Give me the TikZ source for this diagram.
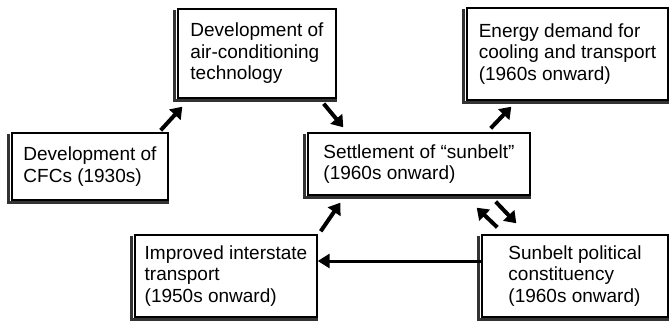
\documentclass[tikz,border=0pt]{standalone}
\usepackage{fontspec}
\setmainfont{Liberation Sans}
\usetikzlibrary{arrows.meta}
\begin{document}
\begin{tikzpicture}[x=1pt, y=-1pt, font=\fontsize{19}{21.5}\selectfont,
	box/.style={draw, line width=1.4pt, fill=white, align=left, inner sep=0pt},
	arr/.style={line width=4pt, -{Triangle[length=11pt, width=15pt]}},
	harr/.style={line width=3pt, -{Triangle[length=12pt, width=14pt]}}]
	\useasboundingbox (0,0) rectangle (670,322);
	% 1. Các hộp
	\node[box, minimum width=158, minimum height=89] (ac) at (257,53.5)
		{Development of\\air-conditioning\\technology};
	\node[box, minimum width=201, minimum height=92] (energy) at (567.5,54)
		{Energy demand for\\cooling and transport\\(1960s onward)};
	\node[box, minimum width=156, minimum height=67] (cfc) at (90,166.5)
		{Development of\\CFCs (1930s)};
	\node[box, minimum width=222, minimum height=62] (sun) at (419,164)
		{Settlement of “sunbelt”\\(1960s onward)};
	\node[box, minimum width=182, minimum height=82] (road) at (226,276)
		{Improved interstate\\transport\\(1950s onward)};
	\node[box, minimum width=186, minimum height=82] (pol) at (575,276)
		{Sunbelt political\\constituency\\(1960s onward)};
	% Bóng đổ cạnh trái và cạnh dưới
	\foreach \n in {ac,energy,cfc,sun,road,pol} {
		\draw[line width=3pt, black!80] ([shift={(-2.5,1.5)}]\n.north west)
			-- ([shift={(-2.5,1.5)}]\n.south west) -- ([yshift=-1.5pt]\n.south east);
	}
	% 2. Các mũi tên
	\draw[arr] ([shift={(-8,-2)}]cfc.north east) -- ([shift={(5,8)}]ac.south west);
	\draw[arr] ([shift={(-13,5)}]ac.south east) -- ([shift={(36,-5)}]sun.north west);
	\draw[arr] ([shift={(-40,-4)}]sun.north east) -- ([shift={(45,6)}]energy.south west);
	\draw[arr] ([shift={(3,-3)}]road.north east) -- ([shift={(33,7)}]sun.south west);
	\draw[harr] ([yshift=15pt]pol.west) -- ([yshift=15pt]road.east);
	% mũi tên hai chiều
	\draw[arr] ([shift={(16,-7)}]pol.north west) -- ([shift={(-54,12)}]sun.south east);
	\draw[arr] ([shift={(-35,6)}]sun.south east) -- ([shift={(35,-11)}]pol.north west);
\end{tikzpicture}
\end{document}
